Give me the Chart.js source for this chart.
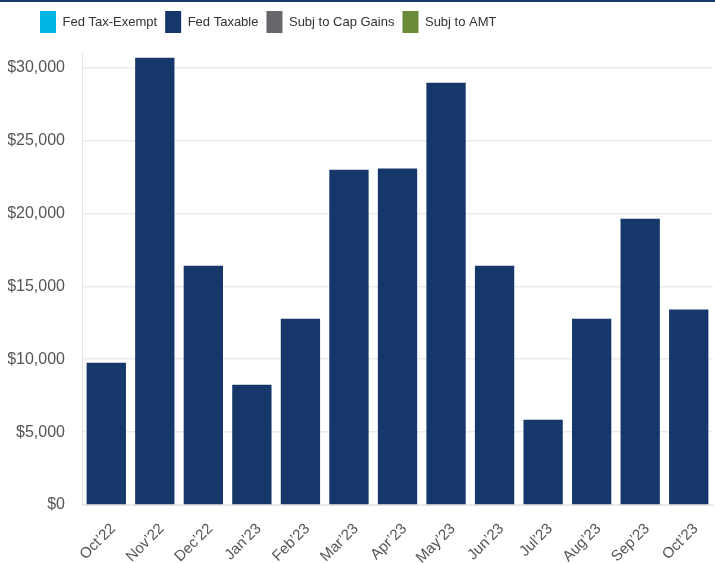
<!DOCTYPE html>
<html>
<head>
<meta charset="utf-8">
<script src="https://cdn.jsdelivr.net/npm/chart.js@4"></script>
<style>
html,body{margin:0;padding:0;background:#fff;}
#wrap{width:715px;height:561px;border-top:2px solid #15376a;position:relative;}
</style>
</head>
<body>
<div id="wrap"><canvas id="c"></canvas></div>
<script>
const categories = ["Oct’22","Nov’22","Dec’22","Jan’23","Feb’23","Mar’23","Apr’23","May’23","Jun’23","Jul’23","Aug’23","Sep’23","Oct’23"];
const fedTaxExempt = [0,0,0,0,0,0,0,0,0,0,0,0,0];
const fedTaxable = [9760,30680,16410,8250,12780,23000,23070,28960,16410,5850,12780,19640,13400];
const subjCapGains = [0,0,0,0,0,0,0,0,0,0,0,0,0];
const subjAMT = [0,0,0,0,0,0,0,0,0,0,0,0,0];
const yTicks = [0,5000,10000,15000,20000,25000,30000];

const legendSpace = {
  id: 'legendSpace',
  beforeInit(chart) {
    const orig = chart.legend.fit;
    chart.legend.fit = function() { orig.call(this); this.height += 10; };
  },
  afterLayout(chart) {
    const lg = chart.legend;
    const shift = 40 - (lg.left + 8);
    lg.left += shift; lg.right += shift;
  }
};

new Chart(document.getElementById('c'), {
  type: 'bar',
  plugins: [legendSpace],
  data: {
    labels: categories,
    datasets: [
      {label:'Fed Tax-Exempt', data: fedTaxExempt, backgroundColor:'#00b5e2'},
      {label:'Fed Taxable', data: fedTaxable, backgroundColor:'#15376a'},
      {label:'Subj to Cap Gains', data: subjCapGains, backgroundColor:'#67666b'},
      {label:'Subj to AMT', data: subjAMT, backgroundColor:'#6a8a37'}
    ]
  },
  options: {
    responsive: true,
    maintainAspectRatio: false,
    animation: false,
    layout: {padding: {left: 8, right: 2, top: 1, bottom: 0}},
    datasets: {bar: {barPercentage: 0.9, categoryPercentage: 0.9, borderWidth: 0}},
    plugins: {
      legend: {
        position: 'top',
        align: 'start',
        labels: {
          boxWidth: 16, boxHeight: 22, padding: 8,
          color: '#333', font: {family: 'Liberation Sans, Arial, sans-serif', size: 13}
        }
      },
      tooltip: {enabled: false}
    },
    scales: {
      x: {
        stacked: true,
        grid: {display: false, drawTicks: false},
        border: {color: '#e6e6e6'},
        afterFit: (s) => { s.height = 58; s.paddingLeft = 0; s.paddingRight = 0; },
        ticks: {
          color: '#555', maxRotation: 45, minRotation: 45, padding: 15, labelOffset: 7,
          font: {family: 'Liberation Sans, Arial, sans-serif', size: 15}
        }
      },
      y: {
        stacked: true,
        min: 0, max: 31000,
        afterBuildTicks: (s) => { s.ticks = yTicks.map(v => ({value: v})); },
        afterFit: (s) => { s.width = 74; },
        grid: {color: '#ebebeb', drawTicks: false, lineWidth: 1.5},
        border: {color: '#e6e6e6'},
        ticks: {
          color: '#555', padding: 17,
          font: {family: 'Liberation Sans, Arial, sans-serif', size: 16},
          callback: (v) => '$' + Number(v).toLocaleString('en-US')
        }
      }
    }
  }
});
</script>
</body>
</html>
